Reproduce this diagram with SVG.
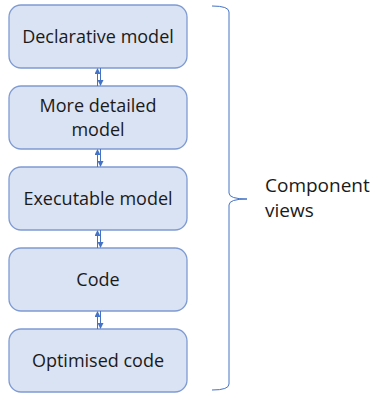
<svg xmlns="http://www.w3.org/2000/svg" width="371" height="393" viewBox="0 0 371 393">
<style>
.box{fill:#dae3f3;stroke:#7f9bd3;stroke-width:1.3}
.t{font-family:"Open Sans","Liberation Sans",sans-serif;font-size:18px;fill:#1a1a1a;text-anchor:middle}
.c{stroke:#4472c4;stroke-width:1;fill:none}
.lab{font-family:"Open Sans","Liberation Sans",sans-serif;font-size:19px;fill:#1a1a1a}
</style>
<defs>
<marker id="ah" viewBox="0 0 6 6" refX="5" refY="3" markerWidth="6" markerHeight="6" orient="auto" markerUnits="userSpaceOnUse">
<path d="M0,0 L6,3 L0,6 z" fill="#4472c4"/>
</marker>
</defs>
<g id="n1"><rect class="box" x="9" y="5" width="178" height="63" rx="12"/><text class="t" x="98" y="43">Declarative model</text></g>
<g id="n2"><rect class="box" x="9" y="86" width="178" height="63" rx="12"/><text class="t" x="98" y="112">More detailed</text><text class="t" x="98" y="136">model</text></g>
<g id="n3"><rect class="box" x="9" y="167" width="178" height="63" rx="12"/><text class="t" x="98" y="205">Executable model</text></g>
<g id="n4"><rect class="box" x="9" y="248" width="178" height="63" rx="12"/><text class="t" x="98" y="286">Code</text></g>
<g id="n5"><rect class="box" x="9" y="329" width="178" height="63" rx="12"/><text class="t" x="98" y="367">Optimised code</text></g>
<g id="connectors">
<line class="c" x1="97.5" y1="86" x2="97.5" y2="69" marker-end="url(#ah)"/>
<line class="c" x1="100.5" y1="68" x2="100.5" y2="85" marker-end="url(#ah)"/>
<line class="c" x1="97.5" y1="167" x2="97.5" y2="150" marker-end="url(#ah)"/>
<line class="c" x1="100.5" y1="149" x2="100.5" y2="166" marker-end="url(#ah)"/>
<line class="c" x1="97.5" y1="248" x2="97.5" y2="231" marker-end="url(#ah)"/>
<line class="c" x1="100.5" y1="230" x2="100.5" y2="247" marker-end="url(#ah)"/>
<line class="c" x1="97.5" y1="329" x2="97.5" y2="312" marker-end="url(#ah)"/>
<line class="c" x1="100.5" y1="311" x2="100.5" y2="328" marker-end="url(#ah)"/>
</g>
<g id="brace">
<path class="c" d="M212,6 Q229,6 229,12 L229,193 Q229,199 247,199 Q229,199 229,205 L229,384 Q229,390 212,390"/>
<text class="lab" x="265" y="192">Component</text>
<text class="lab" x="265" y="217">views</text>
</g>
</svg>
